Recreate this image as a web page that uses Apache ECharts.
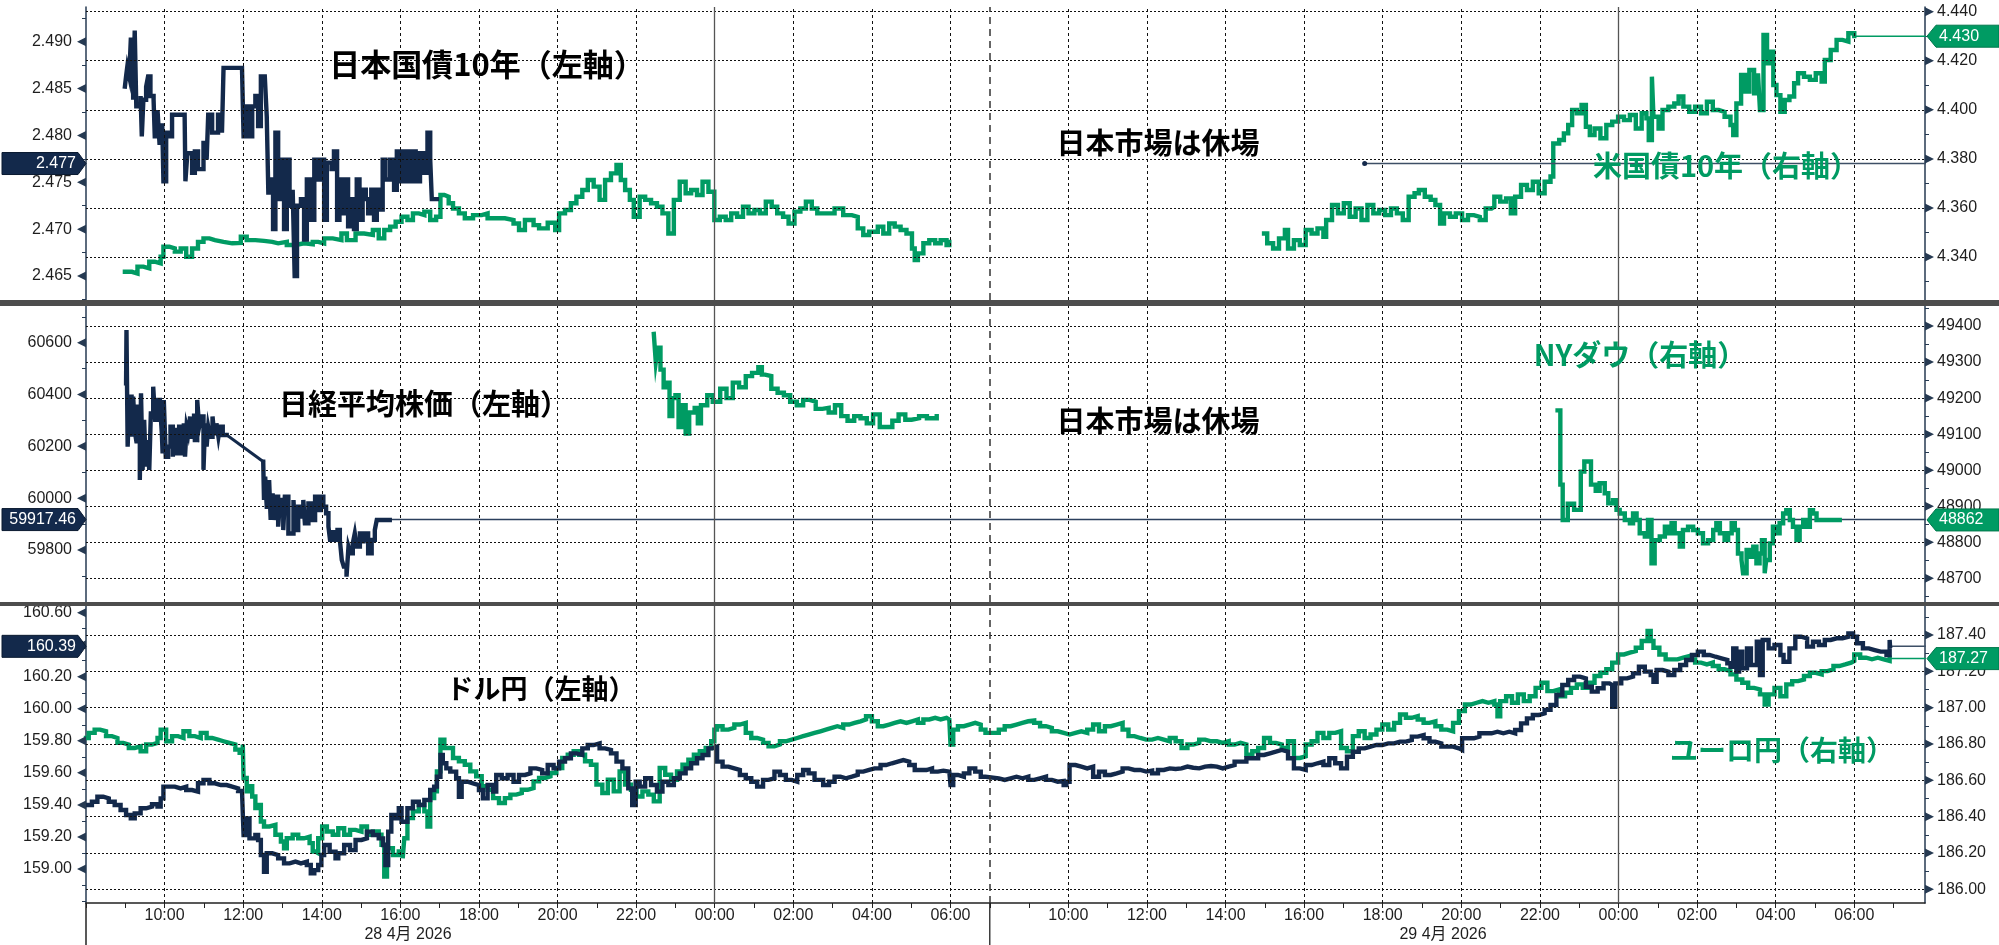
<!DOCTYPE html>
<html><head><meta charset="utf-8">
<script src="https://cdn.jsdelivr.net/npm/echarts@6/dist/echarts.min.js"></script>
<style>html,body{margin:0;padding:0;background:#fff}#c{width:1999px;height:945px}</style>
</head><body><div id="c"></div>
<script>
// ---------- axis / tick data ----------
const XMAX = 46.8;               // compressed session hours from 28 Apr 08:00 (07:00-08:00 gap removed)
const xTickPos = [2,4,6,8,10,12,14,16,18,20,22,25,27,29,31,33,35,37,39,41,43,45];
const xTickLabels = ['10:00','12:00','14:00','16:00','18:00','20:00','22:00','00:00','02:00','04:00','06:00',
                     '10:00','12:00','14:00','16:00','18:00','20:00','22:00','00:00','02:00','04:00','06:00'];
const midnights = [16, 39];
const sessionBreak = 23;
const dateLabels = ['28 4月 2026', '29 4月 2026'];

const jgbTicks = [2.465,2.470,2.475,2.480,2.485,2.490];
const ustTicks = [4.34,4.36,4.38,4.40,4.42,4.44];
const nikkeiTicks = [59800,60000,60200,60400,60600];
const dowTicks = [48700,48800,48900,49000,49100,49200,49300,49400];
const usdTicks = [159.0,159.2,159.4,159.6,159.8,160.0,160.2,160.4,160.6];
const eurTicks = [186.0,186.2,186.4,186.6,186.8,187.0,187.2,187.4];

// ---------- series data [session hour, value] ----------
const jgb10y = [[0.99,2.4852],[1.02,2.4863],[1.05,2.4873],[1.10,2.4863],[1.14,2.4902],[1.20,2.4838],[1.24,2.4912],[1.28,2.4831],[1.39,2.4842],[1.42,2.4799],[1.46,2.4838],[1.53,2.4852],[1.58,2.4863],[1.64,2.4842],[1.72,2.4838],[1.75,2.4799],[1.82,2.4827],[1.87,2.4792],[1.94,2.4813],[1.97,2.4751],[2.04,2.4803],[2.12,2.4799],[2.19,2.4822],[2.51,2.4822],[2.53,2.4751],[2.58,2.4781],[2.70,2.4760],[2.77,2.4783],[2.85,2.4764],[2.99,2.4792],[3.07,2.4774],[3.11,2.4822],[3.21,2.4803],[3.36,2.4822],[3.46,2.4803],[3.50,2.4872],[3.97,2.4872],[4.01,2.4799],[4.09,2.4831],[4.16,2.4799],[4.23,2.4831],[4.31,2.4842],[4.38,2.4810],[4.45,2.4863],[4.55,2.4863],[4.60,2.4820],[4.64,2.4739],[4.70,2.4753],[4.76,2.4700],[4.82,2.4803],[4.89,2.4732],[4.96,2.4774],[5.04,2.4700],[5.11,2.4774],[5.18,2.4725],[5.26,2.4742],[5.31,2.4650],[5.37,2.4725],[5.47,2.4732],[5.55,2.4689],[5.62,2.4753],[5.72,2.4710],[5.81,2.4774],[5.91,2.4753],[5.99,2.4774],[6.06,2.4710],[6.13,2.4771],[6.25,2.4764],[6.31,2.4783],[6.39,2.4710],[6.45,2.4753],[6.54,2.4717],[6.60,2.4753],[6.67,2.4703],[6.74,2.4732],[6.82,2.4700],[6.89,2.4753],[6.96,2.4710],[7.04,2.4742],[7.12,2.4732],[7.18,2.4717],[7.26,2.4742],[7.33,2.4710],[7.40,2.4742],[7.47,2.4721],[7.55,2.4774],[7.62,2.4753],[7.74,2.4774],[7.84,2.4742],[7.91,2.4783],[8.00,2.4751],[8.10,2.4783],[8.20,2.4751],[8.29,2.4783],[8.39,2.4751],[8.50,2.4781],[8.61,2.4760],[8.69,2.4803],[8.76,2.4774],[8.80,2.4732],[8.93,2.4732]];

const ust10yS1 = [[0.99,4.3340],[1.17,4.3333],[1.31,4.3361],[1.46,4.3354],[1.61,4.3381],[1.75,4.3374],[1.90,4.3401],[1.97,4.3442],[2.12,4.3435],[2.26,4.3422],[2.41,4.3435],[2.55,4.3401],[2.70,4.3435],[2.85,4.3462],[2.99,4.3476],[3.14,4.3469],[3.28,4.3462],[3.50,4.3456],[3.72,4.3458],[3.94,4.3483],[4.09,4.3469],[4.31,4.3466],[4.53,4.3462],[4.74,4.3456],[4.89,4.3462],[5.11,4.3449],[5.33,4.3456],[5.55,4.3452],[5.77,4.3462],[5.91,4.3456],[6.06,4.3476],[6.28,4.3469],[6.50,4.3496],[6.64,4.3469],[6.86,4.3496],[7.08,4.3490],[7.30,4.3510],[7.45,4.3476],[7.59,4.3510],[7.74,4.3524],[7.88,4.3544],[8.03,4.3564],[8.18,4.3551],[8.32,4.3578],[8.47,4.3571],[8.61,4.3585],[8.76,4.3551],[8.91,4.3564],[9.02,4.3653],[9.12,4.3646],[9.23,4.3619],[9.34,4.3598],[9.49,4.3578],[9.64,4.3558],[9.85,4.3571],[10.07,4.3578],[10.22,4.3558],[10.44,4.3558],[10.66,4.3551],[10.88,4.3537],[11.02,4.3510],[11.17,4.3551],[11.39,4.3530],[11.53,4.3517],[11.75,4.3540],[11.94,4.3510],[12.04,4.3578],[12.19,4.3592],[12.34,4.3619],[12.48,4.3646],[12.63,4.3673],[12.77,4.3714],[12.92,4.3687],[13.07,4.3633],[13.21,4.3714],[13.36,4.3741],[13.50,4.3775],[13.61,4.3714],[13.72,4.3673],[13.84,4.3633],[13.94,4.3564],[14.09,4.3646],[14.23,4.3633],[14.38,4.3619],[14.53,4.3605],[14.67,4.3578],[14.82,4.3496],[14.96,4.3633],[15.11,4.3707],[15.26,4.3660],[15.40,4.3673],[15.55,4.3653],[15.69,4.3707],[15.84,4.3666],[15.99,4.3551],[16.13,4.3564],[16.28,4.3551],[16.42,4.3578],[16.57,4.3564],[16.72,4.3605],[16.86,4.3578],[17.01,4.3592],[17.15,4.3578],[17.30,4.3626],[17.45,4.3605],[17.59,4.3578],[17.74,4.3564],[17.88,4.3537],[18.03,4.3585],[18.18,4.3598],[18.32,4.3626],[18.47,4.3598],[18.61,4.3578],[18.83,4.3578],[19.05,4.3598],[19.27,4.3571],[19.49,4.3564],[19.64,4.3517],[19.78,4.3490],[19.93,4.3503],[20.15,4.3524],[20.29,4.3496],[20.44,4.3537],[20.58,4.3524],[20.73,4.3510],[20.88,4.3496],[21.02,4.3435],[21.09,4.3388],[21.17,4.3415],[21.31,4.3456],[21.46,4.3469],[21.61,4.3456],[21.75,4.3469],[21.90,4.3449],[21.97,4.3462]];

const ust10yS2 = [[29.98,4.3496],[30.06,4.3456],[30.21,4.3435],[30.36,4.3476],[30.51,4.3510],[30.59,4.3435],[30.74,4.3469],[30.89,4.3449],[31.04,4.3510],[31.19,4.3496],[31.34,4.3517],[31.49,4.3483],[31.56,4.3551],[31.71,4.3612],[31.86,4.3578],[32.01,4.3619],[32.16,4.3564],[32.31,4.3598],[32.46,4.3551],[32.61,4.3612],[32.76,4.3578],[32.91,4.3592],[33.06,4.3571],[33.21,4.3598],[33.36,4.3578],[33.51,4.3551],[33.66,4.3646],[33.81,4.3660],[33.92,4.3673],[34.07,4.3646],[34.22,4.3633],[34.34,4.3612],[34.46,4.3537],[34.56,4.3578],[34.71,4.3564],[34.86,4.3578],[35.02,4.3551],[35.17,4.3571],[35.32,4.3564],[35.47,4.3551],[35.62,4.3598],[35.77,4.3605],[35.84,4.3646],[35.99,4.3626],[36.14,4.3639],[36.26,4.3578],[36.37,4.3646],[36.52,4.3694],[36.67,4.3673],[36.82,4.3707],[36.97,4.3660],[37.12,4.3707],[37.27,4.3728],[37.34,4.3863],[37.49,4.3877],[37.61,4.3904],[37.72,4.3938],[37.82,4.3999],[37.94,4.3986],[38.06,4.4020],[38.17,4.3931],[38.27,4.3897],[38.39,4.3924],[38.54,4.3884],[38.69,4.3938],[38.84,4.3952],[38.99,4.3972],[39.14,4.3958],[39.29,4.3979],[39.44,4.3924],[39.59,4.3986],[39.71,4.3965],[39.77,4.3877],[39.85,4.4135],[39.89,4.3972],[40.02,4.3924],[40.12,4.3999],[40.27,4.4013],[40.42,4.4026],[40.53,4.4054],[40.65,4.4013],[40.80,4.3992],[40.95,4.4013],[41.10,4.3986],[41.25,4.4033],[41.40,4.3999],[41.55,4.3992],[41.70,4.3972],[41.85,4.3938],[41.92,4.3897],[42.00,4.4026],[42.12,4.4142],[42.22,4.4074],[42.33,4.4162],[42.45,4.4067],[42.55,4.4149],[42.60,4.3999],[42.69,4.4305],[42.78,4.4190],[42.87,4.4237],[42.94,4.4101],[43.02,4.4060],[43.12,4.3992],[43.23,4.4040],[43.35,4.4054],[43.47,4.4108],[43.57,4.4149],[43.72,4.4135],[43.87,4.4122],[44.02,4.4149],[44.17,4.4115],[44.25,4.4203],[44.40,4.4244],[44.55,4.4285],[44.70,4.4278],[44.85,4.4312],[45.00,4.4301]];

const nikkeiAM = [[1.02,60443],[1.03,60649],[1.06,60199],[1.10,60392],[1.16,60237],[1.20,60392],[1.25,60250],[1.29,60212],[1.31,60353],[1.37,60070],[1.40,60405],[1.44,60109],[1.48,60302],[1.52,60122],[1.56,60224],[1.61,60109],[1.65,60327],[1.71,60430],[1.76,60302],[1.82,60379],[1.88,60366],[1.93,60250],[1.95,60173],[1.98,60379],[2.03,60160],[2.09,60199],[2.15,60276],[2.21,60160],[2.24,60263],[2.31,60173],[2.37,60276],[2.43,60173],[2.49,60289],[2.52,60160],[2.56,60276],[2.60,60250],[2.65,60315],[2.69,60237],[2.75,60327],[2.77,60224],[2.83,60379],[2.88,60276],[2.93,60315],[2.99,60109],[3.03,60289],[3.07,60199],[3.11,60276],[3.16,60237],[3.22,60315],[3.26,60250],[3.32,60289],[3.37,60237],[3.41,60276],[3.48,60244],[3.58,60244]];
const nikkeiPM = [[4.51,60141],[4.53,59993],[4.56,60083],[4.60,59967],[4.66,60070],[4.70,59916],[4.75,60019],[4.78,59916],[4.83,60006],[4.89,59890],[4.94,59993],[5.02,59877],[5.06,60006],[5.15,59864],[5.28,59993],[5.32,59877],[5.40,59967],[5.46,59929],[5.53,59993],[5.57,59903],[5.66,59980],[5.74,59916],[5.83,60006],[5.91,59954],[5.97,60006],[6.04,59967],[6.11,59942],[6.17,59890],[6.21,59839],[6.29,59877],[6.34,59839],[6.40,59877],[6.46,59839],[6.51,59761],[6.56,59736],[6.63,59697],[6.68,59813],[6.73,59787],[6.79,59826],[6.84,59864],[6.89,59813],[6.97,59864],[7.06,59826],[7.10,59864],[7.18,59787],[7.27,59839],[7.35,59877],[7.40,59916],[7.73,59917]];

const dowS1 = [[14.45,49378],[14.50,49300],[14.55,49340],[14.62,49279],[14.70,49230],[14.78,49243],[14.85,49150],[14.92,49200],[15.00,49208],[15.08,49120],[15.17,49180],[15.26,49102],[15.35,49160],[15.49,49173],[15.57,49130],[15.65,49180],[15.81,49208],[15.95,49190],[16.14,49226],[16.30,49200],[16.46,49243],[16.62,49230],[16.79,49261],[16.95,49270],[17.11,49286],[17.20,49265],[17.28,49261],[17.44,49226],[17.60,49215],[17.76,49208],[17.92,49190],[18.09,49180],[18.25,49195],[18.41,49190],[18.57,49170],[18.74,49173],[18.90,49160],[19.06,49180],[19.22,49150],[19.38,49137],[19.55,49150],[19.71,49144],[19.87,49130],[20.03,49155],[20.20,49120],[20.36,49120],[20.52,49137],[20.68,49155],[20.85,49140],[21.01,49144],[21.20,49150],[21.40,49144],[21.65,49150]];
const dowS2 = [[37.45,49166],[37.52,48960],[37.58,48862],[37.71,48907],[37.87,48890],[38.04,48996],[38.13,49024],[38.30,48960],[38.42,48943],[38.52,48964],[38.65,48936],[38.74,48908],[38.86,48917],[38.95,48890],[39.03,48880],[39.16,48862],[39.29,48853],[39.37,48880],[39.46,48862],[39.54,48825],[39.67,48816],[39.75,48862],[39.84,48742],[39.92,48806],[40.05,48816],[40.18,48843],[40.26,48825],[40.35,48853],[40.43,48825],[40.56,48788],[40.64,48834],[40.77,48843],[40.90,48834],[41.02,48825],[41.15,48797],[41.28,48806],[41.41,48834],[41.49,48853],[41.58,48825],[41.70,48806],[41.79,48825],[41.88,48853],[41.96,48834],[42.04,48769],[42.13,48751],[42.17,48714],[42.26,48779],[42.34,48760],[42.43,48788],[42.51,48742],[42.59,48769],[42.65,48806],[42.72,48714],[42.76,48751],[42.85,48797],[42.93,48843],[43.02,48825],[43.10,48853],[43.19,48880],[43.27,48889],[43.36,48862],[43.44,48843],[43.53,48806],[43.61,48843],[43.70,48862],[43.78,48843],[43.87,48889],[43.95,48880],[44.04,48862],[44.63,48862]];

const usdjpy = [[0.00,159.399],[0.15,159.420],[0.29,159.451],[0.44,159.441],[0.58,159.420],[0.73,159.399],[0.88,159.368],[1.02,159.337],[1.14,159.316],[1.24,159.347],[1.39,159.379],[1.53,159.389],[1.68,159.404],[1.82,159.389],[1.90,159.441],[1.97,159.514],[2.12,159.514],[2.26,159.503],[2.41,159.514],[2.55,159.493],[2.70,159.483],[2.85,159.535],[2.99,159.556],[3.14,159.535],[3.28,159.524],[3.43,159.524],[3.58,159.514],[3.72,159.503],[3.87,159.487],[3.97,159.483],[4.01,159.212],[4.09,159.316],[4.16,159.191],[4.31,159.212],[4.38,159.181],[4.45,159.087],[4.53,158.983],[4.60,159.098],[4.74,159.087],[4.89,159.066],[5.04,159.035],[5.18,159.046],[5.33,159.035],[5.47,159.046],[5.62,159.025],[5.72,158.973],[5.81,158.993],[5.91,159.025],[5.99,159.087],[6.06,159.150],[6.20,159.108],[6.35,159.066],[6.42,159.098],[6.57,159.150],[6.72,159.118],[6.86,159.181],[7.01,159.191],[7.15,159.233],[7.30,159.212],[7.45,159.191],[7.56,159.150],[7.62,159.025],[7.69,159.233],[7.77,159.337],[7.88,159.316],[7.96,159.379],[8.03,159.295],[8.18,159.379],[8.32,159.420],[8.47,159.399],[8.61,159.431],[8.76,159.493],[8.86,159.514],[8.93,159.576],[9.02,159.712],[9.08,159.660],[9.17,159.628],[9.27,159.608],[9.42,159.566],[9.49,159.451],[9.56,159.545],[9.71,159.535],[9.85,159.524],[10.00,159.493],[10.10,159.441],[10.22,159.524],[10.36,159.483],[10.44,159.587],[10.58,159.566],[10.73,159.587],[10.88,159.545],[11.02,159.587],[11.17,159.597],[11.31,159.628],[11.46,159.618],[11.61,159.597],[11.75,159.649],[11.90,159.628],[12.04,159.670],[12.19,159.691],[12.34,159.722],[12.48,159.712],[12.63,159.753],[12.77,159.774],[12.92,159.784],[13.07,159.753],[13.21,159.743],[13.36,159.722],[13.50,159.670],[13.65,159.628],[13.80,159.503],[13.90,159.399],[13.99,159.545],[14.09,159.514],[14.23,159.566],[14.38,159.524],[14.53,159.483],[14.67,159.545],[14.82,159.524],[14.96,159.566],[15.11,159.597],[15.26,159.628],[15.40,159.660],[15.55,159.691],[15.69,159.712],[15.84,159.753],[15.94,159.764],[16.06,159.670],[16.20,159.639],[16.35,159.628],[16.50,159.618],[16.64,159.587],[16.79,159.566],[16.93,159.545],[17.08,159.514],[17.23,159.556],[17.37,159.566],[17.52,159.608],[17.66,159.587],[17.81,159.556],[17.96,159.545],[18.10,159.587],[18.25,159.618],[18.39,159.597],[18.54,159.556],[18.76,159.524],[18.91,159.545],[19.05,159.576],[19.20,159.566],[19.34,159.576],[19.49,159.587],[19.64,159.608],[19.78,159.618],[19.93,159.628],[20.07,159.628],[20.22,159.649],[20.36,159.660],[20.51,159.670],[20.66,159.680],[20.80,159.670],[20.95,159.649],[21.09,159.618],[21.24,159.618],[21.39,159.628],[21.53,159.608],[21.68,159.614],[21.82,159.608],[21.97,159.618],[22.00,159.524],[22.07,159.587],[22.19,159.576],[22.34,159.597],[22.48,159.628],[22.63,159.608],[22.77,159.576],[22.89,159.566],
 [23.23,159.556],[23.38,159.566],[23.53,159.576],[23.68,159.566],[23.83,159.576],[23.98,159.556],[24.13,159.566],[24.28,159.576],[24.43,159.556],[24.58,159.545],[24.73,159.549],[24.88,159.524],[24.95,159.545],[25.03,159.649],[25.18,159.639],[25.33,159.628],[25.48,159.639],[25.63,159.576],[25.78,159.608],[25.93,159.587],[26.08,159.597],[26.23,159.608],[26.38,159.628],[26.53,159.618],[26.68,159.618],[26.83,159.608],[26.98,159.614],[27.13,159.597],[27.28,159.618],[27.43,159.628],[27.58,159.624],[27.73,159.628],[27.88,159.639],[28.03,159.632],[28.18,159.628],[28.33,159.639],[28.48,159.643],[28.63,159.639],[28.78,159.628],[28.93,159.639],[29.08,159.649],[29.23,159.670],[29.38,159.670],[29.53,159.691],[29.68,159.691],[29.83,159.712],[29.98,159.722],[30.13,159.732],[30.28,159.743],[30.43,159.732],[30.59,159.691],[30.74,159.628],[30.89,159.618],[31.04,159.649],[31.19,159.660],[31.34,159.670],[31.49,159.649],[31.64,159.691],[31.79,159.660],[31.94,159.628],[32.09,159.701],[32.24,159.732],[32.39,159.753],[32.54,159.764],[32.69,159.774],[32.84,159.774],[32.99,159.784],[33.14,159.784],[33.29,159.795],[33.44,159.795],[33.59,159.805],[33.74,159.826],[33.89,159.836],[34.04,159.816],[34.19,159.795],[34.34,159.784],[34.49,159.764],[34.64,159.764],[34.79,159.753],[34.94,159.743],[35.02,159.816],[35.17,159.816],[35.32,159.826],[35.46,159.847],[35.62,159.847],[35.77,159.857],[35.92,159.847],[36.07,159.857],[36.22,159.847],[36.37,159.868],[36.52,159.909],[36.67,159.940],[36.82,159.961],[36.97,159.972],[37.12,159.993],[37.27,160.024],[37.42,160.086],[37.57,160.149],[37.72,160.180],[37.87,160.201],[38.02,160.190],[38.17,160.138],[38.32,160.107],[38.47,160.128],[38.62,160.159],[38.77,160.149],[38.84,160.013],[38.92,160.159],[39.07,160.190],[39.22,160.201],[39.37,160.221],[39.52,160.263],[39.67,160.232],[39.82,160.211],[39.89,160.169],[39.97,160.242],[40.12,160.232],[40.27,160.211],[40.42,160.242],[40.57,160.273],[40.72,160.305],[40.87,160.336],[41.02,160.357],[41.17,160.336],[41.32,160.325],[41.47,160.315],[41.62,160.305],[41.77,160.284],[41.85,160.263],[41.92,160.377],[42.00,160.232],[42.07,160.357],[42.15,160.253],[42.27,160.377],[42.37,160.273],[42.52,160.419],[42.60,160.211],[42.67,160.430],[42.82,160.377],[42.97,160.398],[43.12,160.336],[43.20,160.294],[43.35,160.377],[43.50,160.450],[43.65,160.440],[43.80,160.388],[43.95,160.419],[44.10,160.398],[44.25,160.430],[44.40,160.440],[44.55,160.440],[44.70,160.450],[44.85,160.471],[44.97,160.450],[45.07,160.409],[45.22,160.377],[45.37,160.367],[45.52,160.357],[45.67,160.357],[45.82,160.336],[45.90,160.430],[45.91,160.392]];

const eurjpy = [[0.00,186.833],[0.07,186.861],[0.22,186.879],[0.36,186.870],[0.51,186.843],[0.66,186.833],[0.80,186.806],[0.95,186.797],[1.09,186.778],[1.24,186.787],[1.39,186.760],[1.53,186.797],[1.68,186.806],[1.82,186.833],[1.90,186.879],[2.04,186.815],[2.19,186.843],[2.34,186.833],[2.48,186.870],[2.63,186.843],[2.77,186.833],[2.92,186.861],[3.07,186.833],[3.21,186.824],[3.36,186.815],[3.50,186.806],[3.65,186.797],[3.80,186.769],[3.91,186.751],[3.99,186.797],[4.01,186.613],[4.09,186.539],[4.16,186.567],[4.23,186.511],[4.31,186.447],[4.38,186.465],[4.45,186.373],[4.53,186.346],[4.67,186.355],[4.82,186.300],[4.96,186.263],[5.04,186.226],[5.11,186.281],[5.26,186.300],[5.40,186.281],[5.55,186.290],[5.69,186.254],[5.77,186.208],[5.84,186.199],[5.91,186.281],[6.01,186.346],[6.13,186.318],[6.28,186.300],[6.42,186.336],[6.57,186.300],[6.72,186.327],[6.86,186.318],[7.01,186.346],[7.15,186.300],[7.30,186.318],[7.45,186.300],[7.52,186.245],[7.59,186.070],[7.66,186.226],[7.81,186.189],[7.96,186.208],[8.06,186.171],[8.10,186.281],[8.18,186.392],[8.32,186.429],[8.47,186.465],[8.61,186.429],[8.69,186.346],[8.76,186.502],[8.86,186.539],[8.93,186.649],[9.02,186.824],[9.12,186.778],[9.23,186.778],[9.34,186.723],[9.49,186.705],[9.64,186.686],[9.78,186.649],[9.93,186.622],[10.07,186.567],[10.22,186.548],[10.36,186.502],[10.51,186.475],[10.66,186.502],[10.80,186.521],[10.95,186.530],[11.09,186.548],[11.24,186.557],[11.39,186.594],[11.53,186.613],[11.68,186.622],[11.82,186.640],[11.97,186.668],[12.12,186.723],[12.26,186.741],[12.41,186.760],[12.55,186.741],[12.70,186.705],[12.85,186.686],[12.99,186.576],[13.14,186.530],[13.28,186.603],[13.43,186.539],[13.58,186.649],[13.72,186.576],[13.87,186.548],[14.01,186.511],[14.16,186.539],[14.31,186.521],[14.45,186.484],[14.60,186.668],[14.74,186.631],[14.89,186.603],[15.04,186.649],[15.18,186.686],[15.33,186.714],[15.47,186.741],[15.62,186.760],[15.77,186.778],[15.91,186.815],[15.99,186.879],[16.06,186.898],[16.20,186.879],[16.35,186.889],[16.50,186.907],[16.64,186.916],[16.79,186.861],[16.93,186.833],[17.08,186.824],[17.23,186.806],[17.37,186.787],[17.52,186.797],[17.66,186.815],[17.81,186.824],[17.96,186.833],[18.10,186.843],[18.25,186.852],[18.39,186.861],[18.54,186.870],[18.69,186.879],[18.83,186.889],[18.98,186.898],[19.12,186.889],[19.27,186.907],[19.42,186.916],[19.56,186.925],[19.71,186.935],[19.85,186.953],[20.00,186.925],[20.15,186.898],[20.29,186.907],[20.44,186.916],[20.58,186.925],[20.73,186.916],[20.88,186.925],[21.02,186.935],[21.17,186.916],[21.31,186.935],[21.46,186.944],[21.61,186.935],[21.75,186.944],[21.90,186.935],[21.97,186.925],[22.00,186.797],[22.07,186.879],[22.19,186.898],[22.34,186.907],[22.48,186.916],[22.63,186.907],[22.77,186.879],[22.89,186.861],
 [23.23,186.879],[23.38,186.898],[23.53,186.907],[23.68,186.916],[23.83,186.925],[23.98,186.929],[24.13,186.916],[24.28,186.898],[24.43,186.889],[24.58,186.870],[24.73,186.861],[24.88,186.852],[25.03,186.861],[25.18,186.870],[25.33,186.861],[25.48,186.879],[25.63,186.907],[25.78,186.870],[25.93,186.898],[26.08,186.907],[26.23,186.916],[26.38,186.879],[26.53,186.843],[26.68,186.833],[26.83,186.824],[26.98,186.824],[27.13,186.833],[27.28,186.824],[27.43,186.815],[27.58,186.833],[27.73,186.815],[27.88,186.778],[28.03,186.797],[28.18,186.806],[28.33,186.824],[28.48,186.815],[28.63,186.815],[28.78,186.806],[28.93,186.815],[29.08,186.797],[29.23,186.806],[29.38,186.797],[29.53,186.741],[29.68,186.760],[29.83,186.778],[29.98,186.833],[30.13,186.806],[30.28,186.797],[30.43,186.778],[30.59,186.815],[30.74,186.723],[30.89,186.732],[31.04,186.797],[31.19,186.815],[31.34,186.861],[31.49,186.833],[31.64,186.861],[31.79,186.870],[31.94,186.778],[32.09,186.760],[32.24,186.843],[32.39,186.870],[32.54,186.833],[32.69,186.852],[32.84,186.879],[32.99,186.907],[33.14,186.879],[33.29,186.916],[33.44,186.962],[33.59,186.944],[33.74,186.953],[33.89,186.935],[34.04,186.916],[34.19,186.925],[34.34,186.898],[34.49,186.879],[34.64,186.870],[34.79,186.916],[34.94,186.981],[35.09,187.017],[35.24,187.027],[35.39,187.036],[35.54,187.027],[35.69,187.036],[35.84,187.017],[35.92,186.953],[35.99,187.036],[36.14,187.063],[36.29,187.027],[36.44,187.073],[36.59,187.036],[36.74,187.063],[36.89,187.109],[37.04,187.137],[37.19,187.091],[37.34,187.100],[37.49,187.063],[37.64,187.082],[37.79,187.109],[37.94,187.128],[38.09,187.109],[38.24,187.137],[38.39,187.174],[38.54,187.192],[38.69,187.211],[38.84,187.248],[38.99,187.293],[39.14,187.303],[39.29,187.312],[39.44,187.330],[39.59,187.367],[39.74,187.422],[39.82,187.367],[39.89,187.330],[40.04,187.293],[40.20,187.266],[40.35,187.266],[40.50,187.275],[40.65,187.284],[40.80,187.266],[40.95,187.248],[41.10,187.238],[41.25,187.248],[41.40,187.229],[41.55,187.211],[41.70,187.201],[41.85,187.183],[42.00,187.155],[42.15,187.137],[42.30,187.109],[42.45,187.100],[42.60,187.073],[42.72,187.017],[42.82,187.073],[42.97,187.109],[43.12,187.063],[43.27,187.128],[43.42,187.146],[43.57,187.155],[43.72,187.174],[43.87,187.192],[44.02,187.183],[44.17,187.201],[44.32,187.211],[44.47,187.229],[44.62,187.238],[44.77,187.248],[44.92,187.257],[45.00,187.293],[45.15,187.275],[45.30,187.266],[45.45,187.275],[45.60,187.266],[45.75,187.257],[45.90,187.275]];

// last-value markers
const jgbLast = 2.477, jgbLastFrom = 32.54;
const ustLast = 4.430;
const nikkeiLast = 59917.46;
const dowLast = 48862;
const usdLast = 160.39;
const eurLast = 187.27;

// ---------- chart ----------
const NAVY = '#13294b', GREEN = '#009b63', AX = '#263a52', INK = '#1e1e1e';
const NUMFONT = '"Liberation Sans", Arial, sans-serif';
const JPFONT = '"Noto Sans CJK JP", sans-serif';
const LW = 4.4;

function steps(a, b, s) { const r = []; for (let v = a; v <= b + s * 1e-6; v += s) r.push(+v.toFixed(6)); return r; }
const hourTicks = steps(0, 46, 1);

function yAx(grid, pos, min, max, labels, minors, dec) {
  return {
    type: 'value', gridIndex: grid, position: pos, min: min, max: max,
    axisLine: { show: true, onZero: false, lineStyle: { color: AX, width: 1.5 } },
    axisTick: { show: true, customValues: minors, length: 4, lineStyle: { color: AX, width: 1 } },
    axisLabel: {
      show: true, customValues: labels, margin: pos === 'left' ? 14 : 12,
      fontFamily: NUMFONT, fontSize: 16, color: INK,
      formatter: v => v.toFixed(dec)
    },
    splitLine: { show: false }
  };
}

const grids = [
  { left: 86, right: 74, top: 7, height: 293 },
  { left: 86, right: 74, top: 306, height: 296 },
  { left: 86, right: 74, top: 606, height: 297 }
];

const xLabelMap = {}; xTickPos.forEach((p, i) => { xLabelMap[p] = xTickLabels[i]; });

const xAxes = [0, 1, 2].map(i => ({
  type: 'value', gridIndex: i, min: 0, max: XMAX, show: i === 2,
  axisLine: { onZero: false, lineStyle: { color: '#222', width: 1.5 } },
  axisTick: { customValues: hourTicks, length: 5, lineStyle: { color: '#222' } },
  axisLabel: { customValues: xTickPos, formatter: v => xLabelMap[v] || '', margin: 5,
               fontFamily: NUMFONT, fontSize: 16, color: INK },
  splitLine: { show: false }
}));

const axisDefs = [
  [0, 'left', 2.46244, 2.49370, jgbTicks, steps(2.4625, 2.4925, 0.0025), 3],
  [0, 'right', 4.3225, 4.4419, ustTicks, steps(4.33, 4.44, 0.01), 3],
  [1, 'left', 59599.4, 60741.6, nikkeiTicks, steps(59600, 60700, 100), 0],
  [1, 'right', 48634.4, 49455.5, dowTicks, steps(48650, 49450, 50), 0],
  [2, 'left', 158.7876, 160.6418, usdTicks, steps(158.8, 160.6, 0.1), 2],
  [2, 'right', 185.9246, 187.5596, eurTicks, steps(186.0, 187.5, 0.1), 2]
];
const yAxes = axisDefs.map(d => yAx.apply(null, d));

function gridLines(gi, yi, hVals) {
  const data = [];
  hVals.forEach(v => data.push({ yAxis: v }));
  xTickPos.filter(p => midnights.indexOf(p) < 0).forEach(p => data.push({ xAxis: p, lineStyle: { type: [3, 3], color: '#111', width: 1 } }));
  midnights.forEach(p => data.push({ xAxis: p, lineStyle: { type: 'solid', color: '#555', width: 1.3 } }));
  data.push({ xAxis: sessionBreak, lineStyle: { type: [7, 5], color: '#333', width: 1.5 } });
  return {
    type: 'line', xAxisIndex: gi, yAxisIndex: yi, data: [], z: 1, silent: true,
    markLine: { silent: true, symbol: 'none', animation: false, label: { show: false },
                lineStyle: { type: [2, 2], color: '#111', width: 1 }, data: data }
  };
}

function ln(gi, yi, data, color, width, extra) {
  return Object.assign({
    type: 'line', xAxisIndex: gi, yAxisIndex: yi, data: data, showSymbol: false, symbol: 'none',
    step: 'end', z: 3, silent: true, animation: false,
    lineStyle: { color: color, width: width, cap: 'square', join: 'miter' }
  }, extra || {});
}

const nikkeiLunch = [nikkeiAM[nikkeiAM.length - 1], nikkeiPM[0]];

const series = [
  gridLines(0, 1, ustTicks),
  gridLines(1, 3, dowTicks),
  gridLines(2, 5, eurTicks),
  // top panel
  ln(0, 1, ust10yS1, GREEN, LW),
  ln(0, 1, ust10yS2, GREEN, LW),
  ln(0, 1, [[ust10yS2[ust10yS2.length - 1][0], ustLast], [XMAX, ustLast]], GREEN, 1.5, { step: false }),
  ln(0, 0, [{ value: [jgbLastFrom, jgbLast], symbol: 'circle', symbolSize: 5 }, [XMAX, jgbLast]], '#3d4f66', 1.5,
     { step: false, showSymbol: true, itemStyle: { color: NAVY } }),
  ln(0, 0, jgb10y, NAVY, LW, { z: 4 }),
  // middle panel
  ln(1, 2, [[nikkeiPM[nikkeiPM.length - 1][0], nikkeiLast], [XMAX, nikkeiLast]], '#2b3f5c', 1.5, { step: false }),
  ln(1, 3, dowS1, GREEN, LW),
  ln(1, 3, dowS2, GREEN, LW),
  ln(1, 2, nikkeiAM, NAVY, LW, { z: 4 }),
  ln(1, 2, nikkeiLunch, NAVY, 3, { z: 4, step: false }),
  ln(1, 2, nikkeiPM, NAVY, LW, { z: 4 }),
  // bottom panel
  ln(2, 5, eurjpy, GREEN, LW),
  ln(2, 5, [[eurjpy[eurjpy.length - 1][0], eurLast], [XMAX, eurLast]], GREEN, 1.5, { step: false }),
  ln(2, 4, usdjpy, NAVY, LW, { z: 4 }),
  ln(2, 4, [[usdjpy[usdjpy.length - 1][0], usdLast], [XMAX, usdLast]], '#3d4f66', 1.5, { step: false })
];

const chart = echarts.init(document.getElementById('c'), null, { renderer: 'canvas' });
chart.setOption({ animation: false, backgroundColor: '#fff', grid: grids, xAxis: xAxes, yAxis: yAxes, series: series });

// ---------- overlays positioned through the axes ----------
const g = [];
const W = 1999, H = 945;
const xLeftPx = chart.convertToPixel({ xAxisIndex: 0 }, 0);
const xRightPx = chart.convertToPixel({ xAxisIndex: 0 }, XMAX);

// arrow-head markers at each labelled tick
axisDefs.forEach((d, yi) => {
  const left = d[1] === 'left';
  d[4].forEach(v => {
    const y = chart.convertToPixel({ yAxisIndex: yi }, v);
    const pts = left ? [[xLeftPx, y - 4.5], [xLeftPx, y + 4.5], [xLeftPx - 9, y]]
                     : [[xRightPx, y - 4.5], [xRightPx, y + 4.5], [xRightPx + 9, y]];
    g.push({ type: 'polygon', shape: { points: pts }, style: { fill: AX }, z: 40, silent: true });
  });
});

g.push({ type: 'rect', shape: { x: 0, y: 300, width: W, height: 6 }, style: { fill: '#4d4d4d' }, z: 50 });
g.push({ type: 'rect', shape: { x: 0, y: 602, width: W, height: 4 }, style: { fill: '#4d4d4d' }, z: 50 });
const xBreak = chart.convertToPixel({ xAxisIndex: 2 }, sessionBreak);
const yAxisBottom = 903;
g.push({ type: 'line', shape: { x1: xBreak, y1: yAxisBottom, x2: xBreak, y2: H }, style: { stroke: '#222', lineWidth: 1.3 }, z: 50 });
g.push({ type: 'line', shape: { x1: xLeftPx, y1: yAxisBottom, x2: xLeftPx, y2: H }, style: { stroke: '#222', lineWidth: 1.5 }, z: 50 });

function leftBox(y, txt) {
  g.push({ type: 'polygon', shape: { points: [[2, y - 11], [78, y - 11], [86, y], [78, y + 11], [2, y + 11]] },
           style: { fill: NAVY, stroke: '#0a1a30', lineWidth: 1 }, z: 60 });
  g.push({ type: 'text', x: 76, y: y, style: { text: txt, fill: '#fff', font: '16px ' + NUMFONT, textAlign: 'right', textVerticalAlign: 'middle' }, z: 61 });
}
function rightBox(y, txt) {
  g.push({ type: 'polygon', shape: { points: [[1927, y], [1936, y - 11], [W, y - 11], [W, y + 11], [1936, y + 11]] },
           style: { fill: GREEN, stroke: '#00784c', lineWidth: 1 }, z: 60 });
  g.push({ type: 'text', x: 1939, y: y, style: { text: txt, fill: '#fff', font: '16px ' + NUMFONT, textAlign: 'left', textVerticalAlign: 'middle' }, z: 61 });
}
leftBox(chart.convertToPixel({ yAxisIndex: 0 }, jgbLast), jgbLast.toFixed(3));
leftBox(chart.convertToPixel({ yAxisIndex: 2 }, nikkeiLast), nikkeiLast.toFixed(2));
leftBox(chart.convertToPixel({ yAxisIndex: 4 }, usdLast), usdLast.toFixed(2));
rightBox(chart.convertToPixel({ yAxisIndex: 1 }, ustLast), ustLast.toFixed(3));
rightBox(chart.convertToPixel({ yAxisIndex: 3 }, dowLast), String(dowLast));
rightBox(chart.convertToPixel({ yAxisIndex: 5 }, eurLast), eurLast.toFixed(2));

// annotations
const notes = [
  ['日本国債10年（左軸）', 487, 64, '#000', 31],
  ['日本市場は休場', 1158, 143, '#000', 29],
  ['米国債10年（右軸）', 1726, 166, GREEN, 29],
  ['日経平均株価（左軸）', 424, 404, '#000', 29],
  ['日本市場は休場', 1158, 421, '#000', 29],
  ['NYダウ（右軸）', 1640, 355, GREEN, 29],
  ['ドル円（左軸）', 541, 689, '#000', 27],
  ['ユーロ円（右軸）', 1782, 750, GREEN, 28]
];
notes.forEach(n => g.push({ type: 'text', x: n[1], y: n[2], z: 70,
  style: { text: n[0], fill: n[3], font: 'bold ' + n[4] + 'px ' + JPFONT, textAlign: 'center', textVerticalAlign: 'middle' } }));

// date labels under the axis
g.push({ type: 'text', x: 408, y: 935, z: 70, style: { text: dateLabels[0], fill: INK, font: '16px ' + NUMFONT + ', "Noto Sans CJK JP"', textAlign: 'center', textVerticalAlign: 'middle' } });
g.push({ type: 'text', x: 1443, y: 935, z: 70, style: { text: dateLabels[1], fill: INK, font: '16px ' + NUMFONT + ', "Noto Sans CJK JP"', textAlign: 'center', textVerticalAlign: 'middle' } });

chart.setOption({ graphic: { elements: g } });
</script>
</body></html>
